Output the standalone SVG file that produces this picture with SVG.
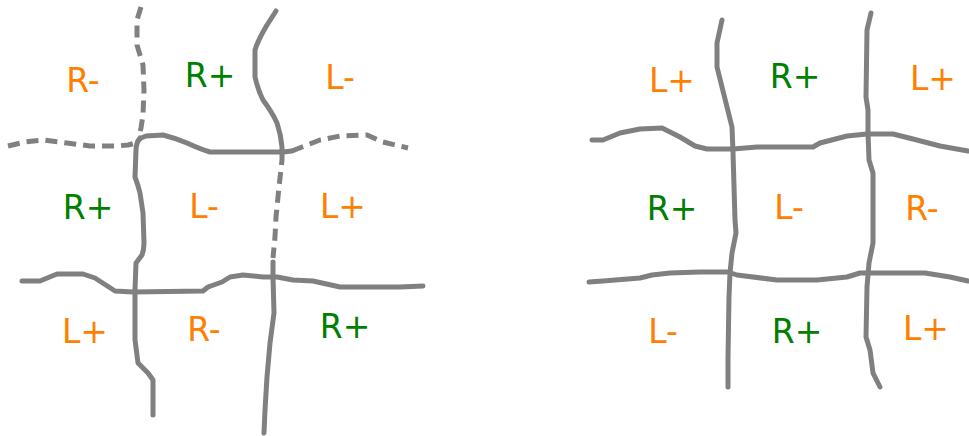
<svg xmlns="http://www.w3.org/2000/svg" width="969" height="436" viewBox="0 0 969 436">
<style>
.ln{fill:none;stroke:#808080;stroke-width:5;stroke-linecap:round;stroke-linejoin:round}
.ds{fill:none;stroke:#808080;stroke-width:5;stroke-linecap:butt;stroke-linejoin:round;stroke-dasharray:12 7}
text{font-family:"DejaVu Sans",sans-serif;font-size:33px;text-anchor:middle}
.o{fill:#ff8000}
.g{fill:#008000}
</style>
<rect width="969" height="436" fill="#fff"/>
<g id="left-lines">
<path class="ds" d="M141,7 L137,20 L137,45 L143,65 L144,90 L143,115 L141,128 L139,136"/>
<path class="ds" d="M8,146 L25,142 L43,140 L67,143 L90,146 L117,146 L128,145 L136,143"/>
<path class="ln" d="M138,141 Q140,138 146,136 L163,135 Q175,138 187,143 Q200,149 210,152 L233,152 L283,152 L292,151"/>
<path class="ds" d="M292,151 L302,147 L320,140 L340,136 L367,135 L383,142 L408,148"/>
<path class="ln" d="M276,11 L267,25 Q258,40 255,50 L255,77 Q258,90 263,100 Q272,112 277,123 Q281,135 282,147 L282,152"/>
<path class="ds" d="M282,153 L282,160 L279,187 L276,217 L275,237 L273,258"/>
<path class="ln" d="M273,262 L273,277 L274,313 L270,343 L267,377 L265,410 L264,433"/>
<path class="ln" d="M140,138 Q136,143 136,150 L135,177 Q138,185 140,193 L143,213 L144,243 Q144,250 142,255 L136,263 L135,290 L135,340 L138,363 L148,373 L153,380 L153,415"/>
<path class="ln" d="M22,281 L40,281 L57,274 L83,274 L95,278 L115,291 L133,292 L203,291 L208,287 L222,282 L230,277 L243,275 L263,277 L277,277 L293,280 L313,281 L340,287 L400,287 L423,286"/>
</g>
<g id="left-labels">
<text class="o" x="83" y="92">R-</text>
<text class="g" x="210" y="87">R+</text>
<text class="o" x="340" y="89">L-</text>
<text class="g" x="88" y="219">R+</text>
<text class="o" x="204" y="218">L-</text>
<text class="o" x="343" y="218">L+</text>
<text class="o" x="85" y="343">L+</text>
<text class="o" x="204" y="341">R-</text>
<text class="g" x="345" y="338">R+</text>
</g>
<g id="right-lines">
<path class="ln" d="M722,20 L717,43 L717,67 L727,107 L732,127 L733,152 L735,220 L736,233 L732,253 L730,273 L729,297 L728,357 L728,387"/>
<path class="ln" d="M871,13 L867,30 L866,97 L868,110 L868,133 L869,160 L873,173 L873,243 L869,263 L867,287 L866,337 L870,350 L873,373 L880,387"/>
<path class="ln" d="M592,140 L603,140 L620,133 L640,129 L662,128 L680,137 L695,146 L707,149 L733,149 L757,147 L813,147 L820,143 L847,136 L867,134 L893,134 L913,139 L940,146 L968,151"/>
<path class="ln" d="M589,282 L603,281 L640,278 L652,275 L670,273 L700,272 L728,272 L737,275 L777,280 L817,280 L847,277 L860,273 L925,273 L950,277 L968,281"/>
</g>
<g id="right-labels">
<text class="o" x="672" y="92">L+</text>
<text class="g" x="795" y="88">R+</text>
<text class="o" x="933" y="90">L+</text>
<text class="g" x="672" y="220">R+</text>
<text class="o" x="789" y="219">L-</text>
<text class="o" x="922" y="220">R-</text>
<text class="o" x="663" y="343">L-</text>
<text class="g" x="797" y="343">R+</text>
<text class="o" x="926" y="340">L+</text>
</g>
</svg>
